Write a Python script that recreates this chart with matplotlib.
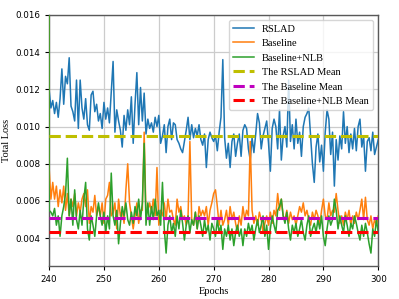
import numpy as np
import matplotlib
matplotlib.use("Agg")
import matplotlib.pyplot as plt

# loss sampled 3 times per epoch, epochs 240..300 (first value = end of warm-up, also logged at 240)
pre_epoch = 240
epochs = 240 + np.arange(181) / 3

rslad_pre = 0.020
rslad = [
    0.0120, 0.0110, 0.0114, 0.0107, 0.0113, 0.0105, 0.0115, 0.0131, 0.0112, 0.0127, 0.0123, 0.0137, 0.0111, 0.0108, 0.0103,
    0.0125, 0.0099, 0.0125, 0.0110, 0.0104, 0.0115, 0.0101, 0.0098, 0.0117, 0.0119, 0.0108, 0.0112, 0.0103, 0.0107, 0.0099,
    0.0113, 0.0104, 0.0110, 0.0102, 0.0119, 0.0135, 0.0097, 0.0109, 0.0103, 0.0098, 0.0089, 0.0106, 0.0098, 0.0109, 0.0101,
    0.0116, 0.0091, 0.0112, 0.0129, 0.0101, 0.0121, 0.0103, 0.0118, 0.0096, 0.0104, 0.0099, 0.0102, 0.0097, 0.0105, 0.0100,
    0.0106, 0.0091, 0.0095, 0.0101, 0.0086, 0.0100, 0.0104, 0.0093, 0.0102, 0.0101, 0.0093, 0.0091, 0.0088, 0.0086, 0.0092,
    0.0098, 0.0105, 0.0093, 0.0101, 0.0094, 0.0099, 0.0095, 0.0101, 0.0093, 0.0090, 0.0096, 0.0078, 0.0093, 0.0097, 0.0094,
    0.0092, 0.0095, 0.0087, 0.0097, 0.0105, 0.0136, 0.0094, 0.0083, 0.0091, 0.0078, 0.0092, 0.0096, 0.0084, 0.0091, 0.0096,
    0.0084, 0.0098, 0.0101, 0.0099, 0.0088, 0.0082, 0.0094, 0.0086, 0.0096, 0.0107, 0.0102, 0.0088, 0.0095, 0.0099, 0.0103,
    0.0091, 0.0076, 0.0099, 0.0104, 0.0100, 0.0088, 0.0109, 0.0082, 0.0095, 0.0100, 0.0089, 0.0125, 0.0092, 0.0101, 0.0088,
    0.0104, 0.0091, 0.0097, 0.0084, 0.0100, 0.0105, 0.0107, 0.0110, 0.0095, 0.0080, 0.0070, 0.0089, 0.0096, 0.0081, 0.0090,
    0.0076, 0.0097, 0.0109, 0.0104, 0.0085, 0.0097, 0.0068, 0.0093, 0.0082, 0.0095, 0.0088, 0.0108, 0.0091, 0.0100, 0.0086,
    0.0096, 0.0088, 0.0099, 0.0087, 0.0100, 0.0104, 0.0089, 0.0095, 0.0076, 0.0092, 0.0094, 0.0087, 0.0097, 0.0085, 0.0089,
    0.0093,
]

baseline_pre = 0.025
baseline = [
    0.0078, 0.0061, 0.0070, 0.0061, 0.0068, 0.0057, 0.0066, 0.0059, 0.0068, 0.0055, 0.0064, 0.0052, 0.0061, 0.0057, 0.0064,
    0.0052, 0.0059, 0.0054, 0.0061, 0.0064, 0.0057, 0.0066, 0.0048, 0.0057, 0.0054, 0.0063, 0.0052, 0.0057, 0.0052, 0.0059,
    0.0048, 0.0061, 0.0063, 0.0070, 0.0052, 0.0054, 0.0059, 0.0045, 0.0061, 0.0052, 0.0055, 0.0048, 0.0066, 0.0080, 0.0059,
    0.0052, 0.0045, 0.0052, 0.0059, 0.0048, 0.0055, 0.0055, 0.0097, 0.0052, 0.0055, 0.0059, 0.0054, 0.0061, 0.0052, 0.0078,
    0.0047, 0.0055, 0.0052, 0.0059, 0.0050, 0.0061, 0.0054, 0.0055, 0.0050, 0.0047, 0.0061, 0.0054, 0.0057, 0.0050, 0.0052,
    0.0047, 0.0052, 0.0092, 0.0050, 0.0047, 0.0054, 0.0045, 0.0057, 0.0052, 0.0055, 0.0052, 0.0057, 0.0047, 0.0055, 0.0059,
    0.0064, 0.0066, 0.0057, 0.0047, 0.0055, 0.0047, 0.0050, 0.0055, 0.0047, 0.0057, 0.0050, 0.0054, 0.0048, 0.0043, 0.0052,
    0.0047, 0.0057, 0.0050, 0.0055, 0.0052, 0.0092, 0.0055, 0.0048, 0.0052, 0.0047, 0.0054, 0.0050, 0.0043, 0.0048, 0.0052,
    0.0047, 0.0054, 0.0048, 0.0055, 0.0052, 0.0064, 0.0055, 0.0061, 0.0052, 0.0050, 0.0055, 0.0048, 0.0054, 0.0050, 0.0052,
    0.0047, 0.0052, 0.0057, 0.0054, 0.0059, 0.0052, 0.0055, 0.0050, 0.0047, 0.0054, 0.0050, 0.0055, 0.0052, 0.0047, 0.0055,
    0.0061, 0.0052, 0.0050, 0.0059, 0.0052, 0.0055, 0.0054, 0.0064, 0.0055, 0.0048, 0.0052, 0.0047, 0.0054, 0.0050, 0.0055,
    0.0047, 0.0052, 0.0048, 0.0054, 0.0050, 0.0055, 0.0061, 0.0050, 0.0062, 0.0050, 0.0047, 0.0052, 0.0045, 0.0050, 0.0047,
    0.0052,
]

nlb_pre = 0.020
nlb = [
    0.0055, 0.0054, 0.0052, 0.0056, 0.0047, 0.0052, 0.0041, 0.0052, 0.0057, 0.0064, 0.0083, 0.0052, 0.0061, 0.0047, 0.0066,
    0.0050, 0.0045, 0.0055, 0.0047, 0.0061, 0.0070, 0.0045, 0.0039, 0.0052, 0.0047, 0.0041, 0.0052, 0.0059, 0.0052, 0.0047,
    0.0054, 0.0043, 0.0052, 0.0045, 0.0075, 0.0052, 0.0047, 0.0055, 0.0037, 0.0048, 0.0057, 0.0052, 0.0059, 0.0050, 0.0047,
    0.0054, 0.0048, 0.0057, 0.0052, 0.0061, 0.0050, 0.0059, 0.0091, 0.0047, 0.0059, 0.0047, 0.0057, 0.0050, 0.0061, 0.0052,
    0.0055, 0.0047, 0.0070, 0.0045, 0.0032, 0.0047, 0.0052, 0.0043, 0.0048, 0.0041, 0.0052, 0.0045, 0.0055, 0.0048, 0.0039,
    0.0047, 0.0052, 0.0043, 0.0050, 0.0047, 0.0054, 0.0045, 0.0052, 0.0047, 0.0041, 0.0050, 0.0043, 0.0047, 0.0039, 0.0048,
    0.0045, 0.0041, 0.0050, 0.0043, 0.0047, 0.0034, 0.0045, 0.0041, 0.0047, 0.0039, 0.0045, 0.0036, 0.0043, 0.0047, 0.0041,
    0.0045, 0.0036, 0.0045, 0.0041, 0.0048, 0.0043, 0.0047, 0.0039, 0.0045, 0.0050, 0.0043, 0.0047, 0.0052, 0.0041, 0.0047,
    0.0034, 0.0045, 0.0052, 0.0047, 0.0043, 0.0055, 0.0057, 0.0061, 0.0052, 0.0048, 0.0054, 0.0045, 0.0039, 0.0047, 0.0043,
    0.0048, 0.0041, 0.0045, 0.0050, 0.0043, 0.0039, 0.0047, 0.0052, 0.0041, 0.0045, 0.0048, 0.0043, 0.0050, 0.0045, 0.0052,
    0.0041, 0.0036, 0.0045, 0.0052, 0.0047, 0.0050, 0.0061, 0.0055, 0.0045, 0.0052, 0.0047, 0.0043, 0.0052, 0.0047, 0.0041,
    0.0048, 0.0045, 0.0052, 0.0048, 0.0043, 0.0039, 0.0047, 0.0041, 0.0048, 0.0043, 0.0037, 0.0032, 0.0045, 0.0041, 0.0050,
    0.0043,
]

rslad_mean = 0.00952
baseline_mean = 0.00509
nlb_mean = 0.00436

xticks = [240, 250, 260, 270, 280, 290, 300]
yticks = [0.004, 0.006, 0.008, 0.010, 0.012, 0.014, 0.016]

serif = ["Liberation Serif", "DejaVu Serif"]

x = np.concatenate([[pre_epoch], epochs])
fig = plt.figure(figsize=(3.99, 2.99), dpi=100)
ax = fig.add_axes([0.123, 0.110, 0.825, 0.840])

ax.plot(x, [rslad_pre] + rslad, color="#1f77b4", lw=1.1, label="RSLAD", zorder=3)
ax.plot(x, [baseline_pre] + baseline, color="#ff7f0e", lw=1.1, label="Baseline", zorder=3)
ax.plot(x, [nlb_pre] + nlb, color="#2ca02c", lw=1.1, label="Baseline+NLB", zorder=3)
ax.axhline(rslad_mean, color="y", ls="--", lw=2.2, label="The RSLAD Mean", zorder=3)
ax.axhline(baseline_mean, color="m", ls="--", lw=2.2, label="The Baseline Mean", zorder=3)
ax.axhline(nlb_mean, color="r", ls="--", lw=2.2, label="The Baseline+NLB Mean", zorder=3)

ax.set_xlim(240, 300)
ax.set_ylim(0.0025, 0.016)
ax.set_xticks(xticks)
ax.set_yticks(yticks)
ax.tick_params(labelsize=6.3, length=3, width=0.8)
ax.grid(True, color="#cccccc", lw=0.9)
ax.set_axisbelow(True)
for s in ax.spines.values():
    s.set_color("0.35")
    s.set_linewidth(1.0)

ax.set_xlabel("Epochs", family=serif, fontsize=7.5, labelpad=2)
ax.set_ylabel("Total Loss", family=serif, fontsize=7.5, labelpad=3)
ax.legend(loc="upper right", prop={"family": serif, "size": 7.5})

fig.savefig("out.png", dpi=100)
